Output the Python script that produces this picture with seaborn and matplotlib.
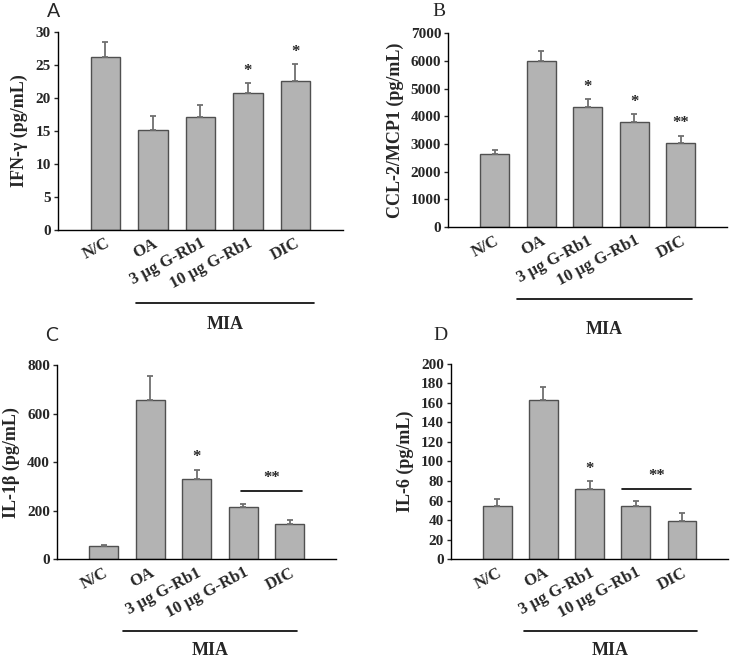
import pandas as pd
import matplotlib
matplotlib.use("Agg")
import matplotlib.pyplot as plt
import seaborn as sns

# Groups shared by all four panels
groups = ["N/C", "OA", "3 μg G-Rb1", "10 μg G-Rb1", "DIC"]

# Panel A: IFN-γ
ifn_mean = [26.2, 15.1, 17.1, 20.8, 22.5]
ifn_err = [2.3, 2.1, 1.8, 1.4, 2.6]
ifn_stars = ["", "", "", "*", "*"]

# Panel B: CCL-2/MCP1
ccl_mean = [2650, 6000, 4350, 3780, 3040]
ccl_err = [140, 340, 270, 300, 250]
ccl_stars = ["", "", "*", "*", "**"]

# Panel C: IL-1β
il1_mean = [53, 655, 332, 213, 143]
il1_err = [7, 102, 36, 15, 17]
il1_stars = ["", "", "*", "", ""]

# Panel D: IL-6
il6_mean = [54.9, 162.6, 71.4, 53.9, 39.1]
il6_err = [7.1, 13.4, 8.6, 5.1, 7.9]
il6_stars = ["", "", "*", "", ""]

sns.set_style("white")
plt.rcParams["font.family"] = ["Liberation Serif", "DejaVu Serif"]

fig = plt.figure(figsize=(7.31, 6.64), dpi=100)

sans = ["Lato", "DejaVu Sans"]
serif = ["Liberation Serif", "DejaVu Serif"]

panels = [
    # letter, letter font, means, errs, stars, ylabel, ymax, ystep, axes rect,
    # letter pos, MIA line x-range, MIA text y, bracket
    ("A", sans, ifn_mean, ifn_err, ifn_stars, "IFN-γ (pg/mL)", 30, 5,
     [0.079, 0.654, 0.390, 0.298], (0.073, 0.983), (0.64, 4.40), -0.48, None),
    ("B", serif, ccl_mean, ccl_err, ccl_stars, "CCL-2/MCP1 (pg/mL)", 7000, 1000,
     [0.613, 0.658, 0.382, 0.292], (0.601, 0.983), (0.48, 4.23), -0.53, None),
    ("C", sans, il1_mean, il1_err, il1_stars, "IL-1β (pg/mL)", 800, 200,
     [0.078, 0.158, 0.382, 0.292], (0.070, 0.495), (0.42, 4.16), -0.47, (2.95, 4.26, 283)),
    ("D", serif, il6_mean, il6_err, il6_stars, "IL-6 (pg/mL)", 200, 20,
     [0.617, 0.158, 0.379, 0.294], (0.602, 0.495), (0.58, 4.33), -0.47, (2.70, 4.20, 72)),
]

for letter, lfont, means, errs, stars, ylabel, ymax, ystep, rect, lpos, mia, mia_y, bracket in panels:
    ax = fig.add_axes(rect)
    df = pd.DataFrame({"group": groups, "value": means})
    sns.barplot(data=df, x="group", y="value", color="#b3b3b3", saturation=1,
                edgecolor="#505050", linewidth=1.0, width=0.62, errorbar=None, ax=ax)
    xs = list(range(len(groups)))
    ax.errorbar(xs, means, yerr=[[0] * len(errs), errs], fmt="none",
                ecolor="#707070", elinewidth=1.3, capsize=2.5, capthick=1.3)

    # significance marks
    for x, m, e, s in zip(xs, means, errs, stars):
        if s:
            ax.annotate(s, (x, m + e), xytext=(0, 9), textcoords="offset points",
                        ha="center", va="center", fontsize=12, fontweight="bold")
    if bracket is not None:
        x0, x1, yb = bracket
        ax.plot([x0, x1], [yb, yb], color="black", lw=1.2, clip_on=False)
        ax.annotate("**", ((x0 + x1) / 2, yb), xytext=(0, 9), textcoords="offset points",
                    ha="center", va="center", fontsize=12, fontweight="bold")

    ax.set_xlim(-1, 5)
    ax.set_ylim(0, ymax)
    ax.set_yticks(range(0, ymax + 1, ystep))
    ax.set_xlabel("")
    ax.set_ylabel(ylabel, fontsize=13, fontweight="bold", labelpad=5)
    sns.despine(ax=ax)
    for side in ["left", "bottom"]:
        ax.spines[side].set_color("black")
        ax.spines[side].set_linewidth(1.0)
    ax.tick_params(axis="y", direction="out", length=3, width=1, labelsize=11, pad=2, left=True)
    ax.tick_params(axis="x", length=0, labelsize=12, pad=4)
    for lab in ax.get_yticklabels():
        lab.set_fontweight("bold")
    ax.set_xticks(xs)
    ax.set_xticklabels(groups, rotation=28, ha="right", rotation_mode="anchor", fontweight="bold")

    # MIA group line under the treated groups
    trans = ax.get_xaxis_transform()
    ax.plot([mia[0], mia[1]], [-0.37, -0.37], color="black", lw=1.2,
            transform=trans, clip_on=False)
    ax.text((mia[0] + mia[1]) / 2, mia_y, "MIA", transform=trans, ha="center", va="center",
            fontsize=13, fontweight="bold")

    fig.text(lpos[0], lpos[1], letter, fontsize=14, family=lfont, ha="center", va="center")

fig.savefig("out.png", dpi=100)
